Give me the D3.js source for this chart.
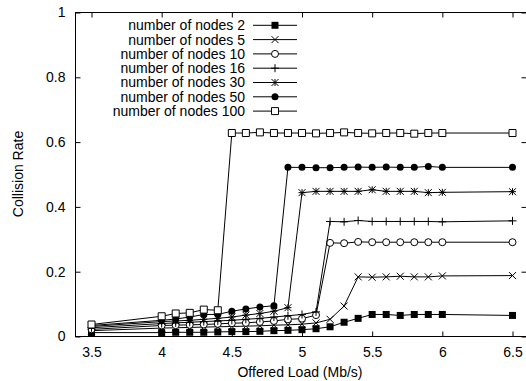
<!DOCTYPE html>
<html>
<head>
<meta charset="utf-8">
<script src="https://cdn.jsdelivr.net/npm/d3@7"></script>
<style>
  body { margin: 0; background: #fff; }
  svg { display: block; }
  text { font-family: "Liberation Sans", Arial, Helvetica, sans-serif; font-size: 14px; fill: #000; }
</style>
</head>
<body>
<svg id="chart" width="526" height="381"></svg>
<script>
// offered load (Mb/s)
const loads = [3.5, 4.0, 4.1, 4.2, 4.3, 4.4, 4.5, 4.6, 4.7, 4.8, 4.9, 5.0, 5.1, 5.2, 5.3, 5.4, 5.5, 5.6, 5.7, 5.8, 5.9, 6.0, 6.5]

const nodes2 = [0.012, 0.012, 0.013, 0.013, 0.013, 0.014, 0.015, 0.015, 0.016, 0.018, 0.019, 0.021, 0.024, 0.03, 0.044, 0.056, 0.068, 0.068, 0.065, 0.068, 0.068, 0.068, 0.065]
const nodes5 = [0.018, 0.026, 0.027, 0.028, 0.029, 0.03, 0.031, 0.032, 0.033, 0.035, 0.036, 0.038, 0.042, 0.053, 0.094, 0.184, 0.183, 0.184, 0.186, 0.184, 0.184, 0.187, 0.188]
const nodes10 = [0.022, 0.034, 0.035, 0.036, 0.037, 0.039, 0.041, 0.042, 0.045, 0.048, 0.053, 0.055, 0.066, 0.289, 0.288, 0.292, 0.291, 0.291, 0.291, 0.291, 0.291, 0.291, 0.291]
const nodes16 = [0.027, 0.04, 0.042, 0.044, 0.046, 0.048, 0.05, 0.053, 0.056, 0.06, 0.064, 0.068, 0.076, 0.355, 0.354, 0.358, 0.355, 0.355, 0.355, 0.355, 0.355, 0.354, 0.357]
const nodes30 = [0.031, 0.046, 0.048, 0.05, 0.053, 0.056, 0.06, 0.066, 0.071, 0.078, 0.089, 0.444, 0.448, 0.448, 0.448, 0.448, 0.453, 0.448, 0.448, 0.448, 0.444, 0.445, 0.447]
const nodes50 = [0.034, 0.05, 0.054, 0.06, 0.068, 0.068, 0.078, 0.085, 0.091, 0.095, 0.522, 0.522, 0.521, 0.521, 0.522, 0.523, 0.522, 0.523, 0.522, 0.522, 0.525, 0.522, 0.522]
const nodes100 = [0.037, 0.0625, 0.071, 0.073, 0.083, 0.081, 0.628, 0.628, 0.63, 0.628, 0.628, 0.628, 0.627, 0.628, 0.63, 0.628, 0.627, 0.628, 0.628, 0.626, 0.628, 0.628, 0.628]

const seriesLabels = ["number of nodes 2", "number of nodes 5", "number of nodes 10", "number of nodes 16",
  "number of nodes 30", "number of nodes 50", "number of nodes 100"]
const seriesValues = [nodes2, nodes5, nodes10, nodes16, nodes30, nodes50, nodes100]

const xTicks = [3.5, 4, 4.5, 5, 5.5, 6, 6.5]
const yTicks = [0, 0.2, 0.4, 0.6, 0.8, 1]

// gnuplot-like point types, one per series
const markerTypes = ["fsquare", "times", "circle", "plus", "star", "fcircle", "square"]

function markerPath(type) {
  const h = 3.5
  if (type === "fsquare") return `M${-h},${-h}h${2 * h}v${2 * h}h${-2 * h}Z`
  if (type === "square") return `M${-h},${-h}h${2 * h}v${2 * h}h${-2 * h}Z`
  if (type === "plus") return `M${-h - 0.5},0h${2 * h + 1}M0,${-h - 0.5}v${2 * h + 1}`
  if (type === "times") return `M${-h},${-h}L${h},${h}M${-h},${h}L${h},${-h}`
  if (type === "star") return `M${-h},0h${2 * h}M0,${-h}v${2 * h}M${-h},${-h}L${h},${h}M${-h},${h}L${h},${-h}`
  const p = d3.path()
  p.arc(0, 0, h, 0, 2 * Math.PI)
  return p.toString()
}
const markerFill = (type) => (type === "fsquare" || type === "fcircle" ? "#000" : "#fff")
const markerStroke = (type) => (type === "fsquare" || type === "fcircle" ? "none" : "#000")

const svg = d3.select("#chart")

// right border sits just past the picture's edge, as in the original
const frame = { left: 75.5, right: 526.5, top: 12.5, bottom: 336.5 }

const x = d3.scaleLinear().domain([3.5, 6.5]).range([91.5, 512.5])
const y = d3.scaleLinear().domain([0, 1]).range([frame.bottom, frame.top])

const tickLen = 5

// border
svg.append("rect")
  .attr("x", frame.left).attr("y", frame.top)
  .attr("width", frame.right - frame.left).attr("height", frame.bottom - frame.top)
  .attr("fill", "none").attr("stroke", "#000").attr("stroke-width", 1)

// bottom axis, ticks inward, mirrored on top
const xAxis = svg.append("g").attr("transform", `translate(0,${frame.bottom})`)
  .call(d3.axisBottom(x).tickValues(xTicks).tickSize(-tickLen).tickPadding(11).tickFormat(d3.format("")))
xAxis.select(".domain").remove()
xAxis.selectAll("text").attr("font-size", 14).attr("font-family", null)

const xTop = svg.append("g").attr("transform", `translate(0,${frame.top})`)
  .call(d3.axisTop(x).tickValues(xTicks).tickSize(-tickLen).tickFormat(""))
xTop.select(".domain").remove()

// left axis, mirrored on right
const yAxis = svg.append("g").attr("transform", `translate(${frame.left},0)`)
  .call(d3.axisLeft(y).tickValues(yTicks).tickSize(-tickLen).tickPadding(10).tickFormat(d3.format("")))
yAxis.select(".domain").remove()
yAxis.selectAll("text").attr("font-size", 14).attr("font-family", null)

const yRight = svg.append("g").attr("transform", `translate(${frame.right},0)`)
  .call(d3.axisRight(y).tickValues(yTicks).tickSize(-tickLen).tickFormat(""))
yRight.select(".domain").remove()

// axis titles
svg.append("text")
  .attr("x", 300).attr("y", 377)
  .attr("text-anchor", "middle")
  .text("Offered Load (Mb/s)")

svg.append("text")
  .attr("transform", `translate(23,174) rotate(-90)`)
  .attr("text-anchor", "middle")
  .text("Collision Rate")

// series
const line = d3.line()
const plot = svg.append("g")

seriesValues.forEach((vals, i) => {
  const pts = loads.map((l, j) => [x(l), y(vals[j])])
  const type = markerTypes[i]
  plot.append("path")
    .attr("d", line(pts))
    .attr("fill", "none")
    .attr("stroke", "#000")
    .attr("stroke-width", 1)

  plot.append("g")
    .selectAll("path")
    .data(pts)
    .join("path")
    .attr("transform", (d) => `translate(${d[0]},${d[1]})`)
    .attr("d", markerPath(type))
    .attr("fill", markerFill(type))
    .attr("stroke", markerStroke(type))
    .attr("stroke-width", 1)
})

// legend
const legend = svg.append("g")
const rowY = (i) => 25.3 + i * 14.3
seriesLabels.forEach((label, i) => {
  const g = legend.append("g").attr("transform", `translate(0,${rowY(i)})`)
  g.append("text")
    .attr("x", 245).attr("y", 0).attr("dy", "0.35em")
    .attr("text-anchor", "end")
    .attr("font-size", 13.5)
    .text(label)
  g.append("line")
    .attr("x1", 253).attr("x2", 297).attr("y1", 0).attr("y2", 0)
    .attr("stroke", "#000").attr("stroke-width", 1)
  const type = markerTypes[i]
  g.append("path")
    .attr("transform", "translate(275,0)")
    .attr("d", markerPath(type))
    .attr("fill", markerFill(type))
    .attr("stroke", markerStroke(type))
    .attr("stroke-width", 1)
})
</script>
</body>
</html>
